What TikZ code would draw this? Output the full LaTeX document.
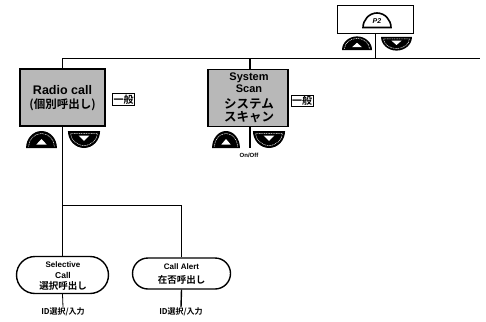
\documentclass[tikz,border=0pt]{standalone}
\usepackage{fontspec}
\setmainfont{Liberation Sans}
\newfontfamily\jp{Noto Sans CJK JP}[BoldFont={Noto Sans CJK JP Bold}]
\usetikzlibrary{shapes.misc}
\tikzset{
  shbox/.style={draw, line width=1.8pt, fill=black!28, inner sep=0pt},
  ipbox/.style={draw, line width=1pt, inner sep=1pt, font=\jp\bfseries\fontsize{10}{10}\selectfont},
  oval/.style={draw, line width=1.4pt, rounded rectangle, inner sep=0pt},
  txt/.style={inner sep=0pt, font=\bfseries\fontsize{#1}{#1}\selectfont},
  jtxt/.style={inner sep=0pt, font=\jp\bfseries\fontsize{#1}{#1}\selectfont},
  wire/.style={line width=1.6pt},
  thinwire/.style={line width=1pt},
  lbl/.style={inner sep=0.5pt, font=\jp\bfseries\fontsize{8}{8}\selectfont},
  upbtn/.pic={
    \fill[black] (-15,0) .. controls (-15,-9.4) and (-8.3,-17) .. (0,-17) .. controls (8.3,-17) and (15,-9.4) .. (15,0) -- cycle;
    \draw[white, line width=0.5pt, dash pattern=on 1pt off 0.7pt] (-12.5,-1.5) .. controls (-12.5,-8.5) and (-6.9,-14.5) .. (0,-14.5) .. controls (6.9,-14.5) and (12.5,-8.5) .. (12.5,-1.5);
    \fill[white] (-5,-3.5) -- (5,-3.5) -- (0,-9) -- cycle;
  },
  downbtn/.pic={
    \fill[black] (-15,0) .. controls (-15,9.4) and (-8.3,17) .. (0,17) .. controls (8.3,17) and (15,9.4) .. (15,0) -- cycle;
    \draw[white, line width=0.5pt, dash pattern=on 1pt off 0.7pt] (-12.5,2.5) -- (12.5,2.5) .. controls (12.5,8.5) and (6.9,14.5) .. (0,14.5) .. controls (-6.9,14.5) and (-12.5,8.5) .. (-12.5,2.5);
    \fill[white] (-5,4.5) -- (5,4.5) -- (0,10) -- cycle;
  },
}
\begin{document}
\begin{tikzpicture}[x=1pt,y=-1pt]
\useasboundingbox[fill=white] (0,0) rectangle (486,321);

% P2 block
\node[draw, line width=0.9pt, minimum width=76pt, minimum height=28pt, inner sep=0pt] (p2) at (375,19) {};
\draw[line width=1.6pt] (363,27.5) .. controls (363,20) and (369,13) .. (377,13) .. controls (385,13) and (391,20) .. (391,27.5) -- cycle;
\node[inner sep=0pt, font=\bfseries\itshape\fontsize{7}{7}\selectfont] (p2t) at (377,21.5) {P2};
\pic[xscale=1, yscale=0.8] at (357,50) {upbtn};
\pic[xscale=1.03, yscale=0.8] at (396.5,37) {downbtn};

% Radio call
\node[shbox, minimum width=85pt, minimum height=57pt] (rc) at (62.5,97.5) {};
\node[txt=12.5] (rc1) at (62.5,90.5) {Radio call};
\node[jtxt=11.5] (rc2) at (62.5,105) {(個別呼出し)};
\node[ipbox] (ip1) at (123.5,99.5) {一般};
\pic[xscale=1.03] at (41.5,148) {upbtn};
\pic[xscale=1.07] at (84,131) {downbtn};

% System Scan
\node[shbox, minimum width=80pt, minimum height=57pt] (ss) at (248,98) {};
\node[txt=11] (ss1) at (249,77.5) {System};
\node[txt=11] (ss2) at (249,88.5) {Scan};
\node[jtxt=12.5] (ss3) at (249,104) {システム};
\node[jtxt=12.5] (ss4) at (249,117) {スキャン};
\node[ipbox] (ip2) at (302,101) {一般};
\pic[xscale=0.93] at (226,148) {upbtn};
\pic[xscale=1.07] at (269,131) {downbtn};
\node[txt=6] (onoff) at (249,155) {On/Off};
\coordinate (ssend) at (250,148);

% Trunk
\coordinate (t1) at (62.5,58);
\coordinate (t2) at (480,58);
\draw[thinwire] (t1) -- (t2);
\draw[wire] (t1) -- (rc.north);
\draw[wire] (250,58) -- (250,69.5);
\draw[thinwire] (p2.south) -- (p2.south |- t1);
\draw[wire] (250,126.5) -- (ssend);

% Lower branch
\node[oval, minimum width=92pt, minimum height=37pt] (sel) at (62.5,275) {};
\node[txt=8] (sel1) at (63,265) {Selective};
\node[txt=8.5] (sel2) at (63,275.5) {Call};
\node[jtxt=9.5] (sel3) at (63,286) {選択呼出し};
\node[oval, minimum width=98pt, minimum height=31pt] (ca) at (181.5,273.5) {};
\node[txt=8] (ca1) at (181.5,267) {Call Alert};
\node[jtxt=9.5] (ca2) at (181.5,279.5) {在否呼出し};
\coordinate (j1) at (62.5,205);
\draw[wire] (rc.south) -- (sel.north);
\draw[thinwire] (j1) -| (ca.north);
\draw[line width=1.6pt] (181.5,205) -- (ca.north);

\node[lbl] (id1) at (63,312) {ID選択/入力};
\node[lbl] (id2) at (181,312) {ID選択/入力};
\draw[line width=0.8pt] (sel.south) -- (id1.north);
\draw[line width=1.4pt] (ca.south) -- (id2.north);
\end{tikzpicture}
\end{document}
